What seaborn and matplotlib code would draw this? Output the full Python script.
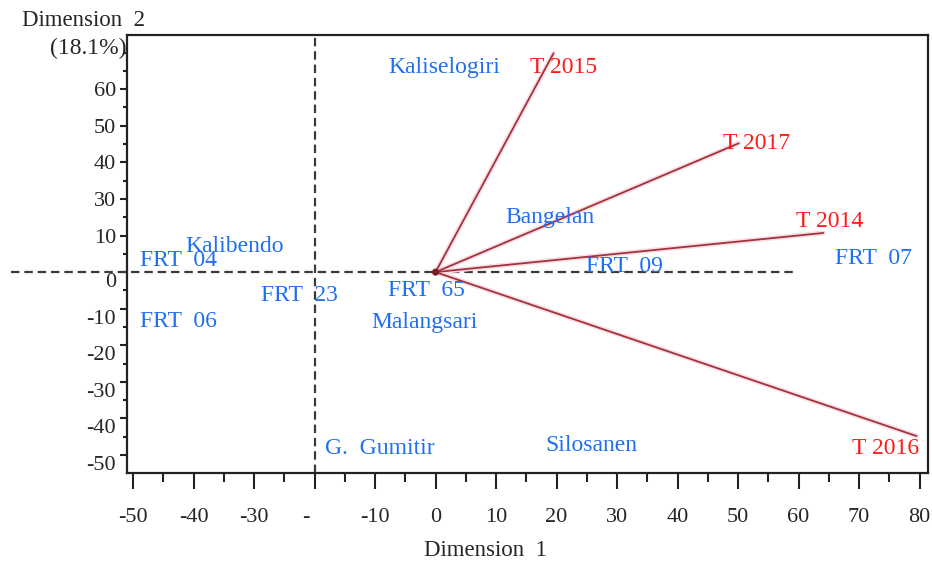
import numpy as np
import pandas as pd
import matplotlib
matplotlib.use("Agg")
import matplotlib.pyplot as plt
import matplotlib.transforms as mtransforms
from matplotlib.ticker import FixedLocator, MultipleLocator
import seaborn as sns

# Environment vectors (drawn from the biplot origin to these end points)
environments = ["T 2014", "T 2015", "T 2016", "T 2017"]
env_dim1 = [64.1, 19.5, 79.5, 50.1]
env_dim2 = [10.7, 59.8, -44.8, 35.2]

# Genotype scores (label anchor = score position)
genotypes = ["Kaliselogiri", "Bangelan", "Kalibendo", "FRT  04", "FRT  06",
             "FRT  23", "FRT  65", "Malangsari", "FRT  09", "FRT  07",
             "G.  Gumitir", "Silosanen"]
gen_dim1 = [-7.8, 11.6, -41.3, -48.9, -48.9, -28.9, -7.8, -10.6, 24.8, 66.1, -18.3, 18.2]
gen_dim2 = [56.0, 14.8, 7.1, 3.3, -13.4, -6.3, -4.9, -13.7, 1.6, 3.8, -48.1, -47.5]

# Axis ticks and their printed labels
x_ticks = [-50, -40, -30, -20, -10, 0, 10, 20, 30, 40, 50, 60, 70, 80]
x_tick_labels = ["-50", "-40", "-30", "-", "-10", "0", "10", "20", "30",
                 "40", "50", "60", "70", "80"]
y_ticks = [50, 40, 30, 20, 10, 0, -10, -20, -30, -40, -50]
y_tick_labels = ["60", "50", "40", "30", "10", "0", "-10", "-20", "-30", "-40", "-50"]

x_title = "Dimension  1"
y_title = "Dimension  2"
y_title_pct = "(18.1%)"

sns.set_theme(style="white")
plt.rcParams["font.family"] = ["Liberation Serif", "DejaVu Serif"]

RED = "#ff1a1a"
BLUE = "#1f6ff0"
VEC = "#a33241"
GLOW = "#f9dfe3"
DASH = "#3a3a3a"

fig = plt.figure(figsize=(9.32, 5.65), dpi=100)
ax = fig.add_axes([127 / 932, 1 - 473 / 565, (928 - 127) / 932, (473 - 35) / 565])

# long-form table: one segment per environment
vec_df = pd.DataFrame({
    "env": np.repeat(environments, 2),
    "dim1": np.ravel([[0.0, x] for x in env_dim1]),
    "dim2": np.ravel([[0.0, y] for y in env_dim2]),
})

# reference axes through the origin
ax.plot([-70.2, 59.5], [0, 0], color=DASH, lw=1.6, dashes=(3.8, 2.2),
        clip_on=False, zorder=1)
ax.axvline(-20, color=DASH, lw=1.6, dashes=(3.8, 2.2), zorder=1)

sns.lineplot(data=vec_df, x="dim1", y="dim2", units="env", estimator=None,
             sort=False, color=GLOW, lw=3.6, ax=ax, zorder=2)
sns.lineplot(data=vec_df, x="dim1", y="dim2", units="env", estimator=None,
             sort=False, color=VEC, lw=1.3, ax=ax, zorder=3)
sns.scatterplot(x=[0.0], y=[0.0], color="#7a1d26", s=26, edgecolor="none",
                ax=ax, zorder=4)

# environment labels next to vector tips (offsets in points)
env_offsets = {
    "T 2014": (-20, 8, "left"),
    "T 2015": (-17, -10, "left"),
    "T 2016": (2, -9, "right"),
    "T 2017": (-11, 0, "left"),
}
for name, x, y in zip(environments, env_dim1, env_dim2):
    dx, dy, ha = env_offsets[name]
    ax.annotate(name, (x, y), xytext=(dx, dy), textcoords="offset points",
                ha=ha, va="center", color=RED, fontsize=17, zorder=5,
                annotation_clip=False)

for name, x, y in zip(genotypes, gen_dim1, gen_dim2):
    ax.text(x, y, name, ha="left", va="center", color=BLUE, fontsize=17, zorder=5)

ax.set_xlim(-51.0, 81.4)
ax.set_ylim(-54.9, 64.8)

ax.xaxis.set_major_locator(FixedLocator(x_ticks))
ax.set_xticklabels(x_tick_labels)
ax.xaxis.set_minor_locator(MultipleLocator(5))
ax.yaxis.set_major_locator(FixedLocator(y_ticks))
ax.set_yticklabels(y_tick_labels)
ax.yaxis.set_minor_locator(MultipleLocator(5))

ax.tick_params(axis="x", which="major", direction="out", length=11.5, width=1.5,
               color="#222222", labelsize=16, pad=14, bottom=True)
ax.tick_params(axis="x", which="minor", direction="out", length=6.5, width=1.5,
               color="#222222", bottom=True)
ax.tick_params(axis="y", which="major", direction="out", length=5, width=1.5,
               color="#222222", labelsize=16, pad=3, left=True)
ax.tick_params(axis="y", which="minor", direction="out", length=3, width=1.5,
               color="#222222", left=True)

# nudge individual tick labels
lbl_shift = mtransforms.ScaledTranslation(-9 / 100, 0, fig.dpi_scale_trans)
xl = ax.get_xticklabels()
xl[3].set_transform(xl[3].get_transform() + lbl_shift)
for lab, pos in zip(ax.get_yticklabels(), y_ticks):
    if pos <= 0:
        down = mtransforms.ScaledTranslation(0, -8 / 100, fig.dpi_scale_trans)
        lab.set_transform(lab.get_transform() + down)

for side in ["left", "right", "top", "bottom"]:
    ax.spines[side].set_visible(True)
    ax.spines[side].set_color("#222222")
    ax.spines[side].set_linewidth(1.6)

ax.set_xlabel("")
ax.set_ylabel("")
ax.grid(False)

fig.text(485 / 932, 1 - 551 / 565, x_title, ha="center", va="center", fontsize=16.5)
fig.text(22 / 932, 1 - 20 / 565, y_title, ha="left", va="center", fontsize=16.5)
fig.text(126 / 932, 1 - 48 / 565, y_title_pct, ha="right", va="center", fontsize=17)

fig.savefig("out.png", dpi=100)
